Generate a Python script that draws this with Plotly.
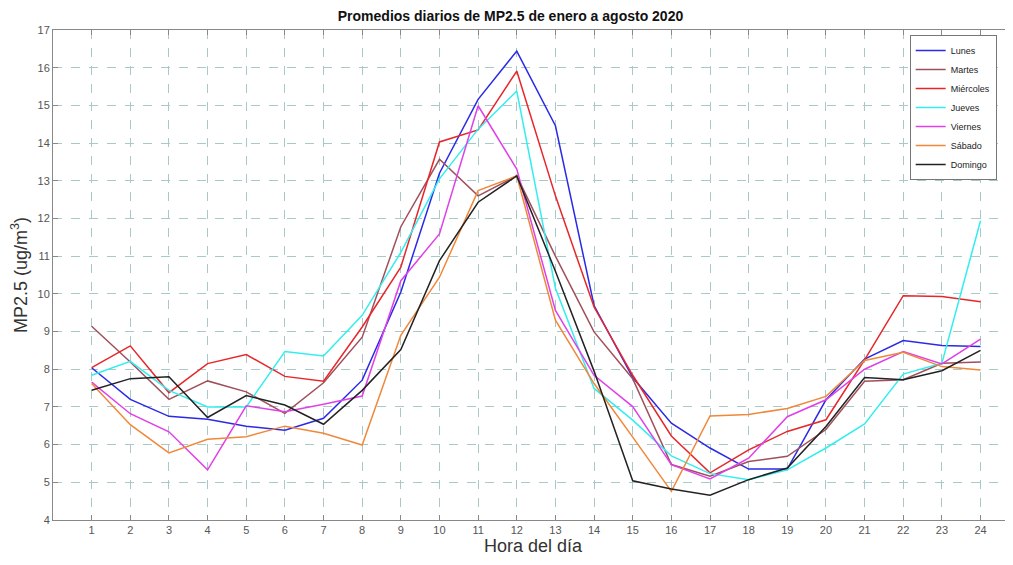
import plotly.graph_objects as go

horas = list(range(1, 25))

lunes = [8.04, 7.20, 6.75, 6.67, 6.49, 6.38, 6.70, 7.71, 10.05, 13.2, 15.16, 16.44,
         14.46, 9.69, 7.78, 6.57, 5.91, 5.35, 5.35, 7.19, 8.27, 8.76, 8.63, 8.60]
martes = [9.14, 8.19, 7.20, 7.69, 7.40, 6.83, 7.64, 8.85, 11.78, 13.57, 12.60, 13.13,
          11.0, 8.99, 7.75, 5.47, 5.16, 5.55, 5.69, 6.40, 7.68, 7.72, 8.16, 8.19]
miercoles = [8.04, 8.62, 7.38, 8.15, 8.39, 7.81, 7.68, 9.12, 10.71, 14.03, 14.35, 15.91,
             12.6, 9.65, 7.84, 6.23, 5.25, 5.86, 6.35, 6.66, 8.25, 9.95, 9.93, 9.79]
jueves = [7.84, 8.21, 7.44, 7.00, 7.00, 8.47, 8.35, 9.43, 11.1, 13.05, 14.37, 15.38,
          10.15, 7.49, 6.65, 5.70, 5.23, 5.07, 5.33, 5.91, 6.55, 7.87, 8.16, 11.94]
viernes = [7.66, 6.82, 6.34, 5.33, 7.03, 6.87, 7.07, 7.29, 10.35, 11.59, 14.99, 13.31,
           9.56, 7.84, 7.01, 5.47, 5.09, 5.64, 6.74, 7.19, 8.00, 8.47, 8.14, 8.80]
sabado = [7.62, 6.53, 5.78, 6.14, 6.21, 6.49, 6.30, 5.99, 8.9, 10.44, 12.74, 13.13,
          9.30, 7.62, 6.2, 4.76, 6.76, 6.80, 6.96, 7.28, 8.23, 8.45, 8.07, 7.98]
domingo = [7.44, 7.75, 7.80, 6.72, 7.30, 7.05, 6.54, 7.44, 8.52, 10.88, 12.43, 13.13,
           10.6, 7.95, 5.04, 4.82, 4.66, 5.07, 5.38, 6.48, 7.78, 7.72, 7.96, 8.50]

nombres = ["Lunes", "Martes", "Miércoles", "Jueves", "Viernes", "Sábado", "Domingo"]
series = [lunes, martes, miercoles, jueves, viernes, sabado, domingo]
colores = ["#2a2ae6", "#a0505c", "#e8262a", "#33eeee", "#e040e8", "#f0883a", "#222222"]

fig = go.Figure()
for nombre, vals, col in zip(nombres, series, colores):
    fig.add_trace(go.Scatter(x=horas, y=vals, mode="lines", name=nombre,
                             line=dict(color=col, width=1.5)))

font_family = "Liberation Sans, Arial, sans-serif"
grid_col = "#a9c9c9"

fig.update_layout(
    width=1005, height=557,
    margin=dict(l=45, r=0, t=22, b=45),
    paper_bgcolor="white", plot_bgcolor="white",
    font=dict(family=font_family, color="#444"),
    title=dict(text="<b>Promedios diarios de MP2.5 de enero a agosto 2020</b>",
               x=0.5, xanchor="center", yref="container", y=0.985, yanchor="middle",
               font=dict(size=14, color="#111", family=font_family)),
    legend=dict(x=0.983, y=0.99, xanchor="right", yanchor="top",
                bgcolor="white", bordercolor="#777", borderwidth=1,
                font=dict(size=9, color="#222"), itemwidth=30,
                tracegroupgap=0),
    showlegend=True,
)

fig.update_xaxes(
    range=[0, 24.84], tickmode="array", tickvals=horas,
    ticktext=[str(h) for h in horas],
    showgrid=True, gridcolor=grid_col, griddash="dash", gridwidth=1,
    showline=True, linecolor="#888", linewidth=1, mirror="ticks",
    ticks="inside", ticklen=5, tickcolor="#888",
    tickfont=dict(size=11, color="#555"),
    zeroline=False,
    title=dict(text="Hora del día", font=dict(size=18, color="#333"), standoff=4),
)
fig.update_yaxes(
    range=[4, 17], tickmode="linear", tick0=4, dtick=1,
    showgrid=True, gridcolor=grid_col, griddash="dash", gridwidth=1,
    showline=True, linecolor="#888", linewidth=1, mirror="ticks",
    ticks="inside", ticklen=5, tickcolor="#888",
    tickfont=dict(size=11, color="#555"),
    zeroline=False,
    title=dict(text="MP2.5 (ug/m<sup>3</sup>)", font=dict(size=18, color="#333"), standoff=6),
)

fig.write_html("out.html")
